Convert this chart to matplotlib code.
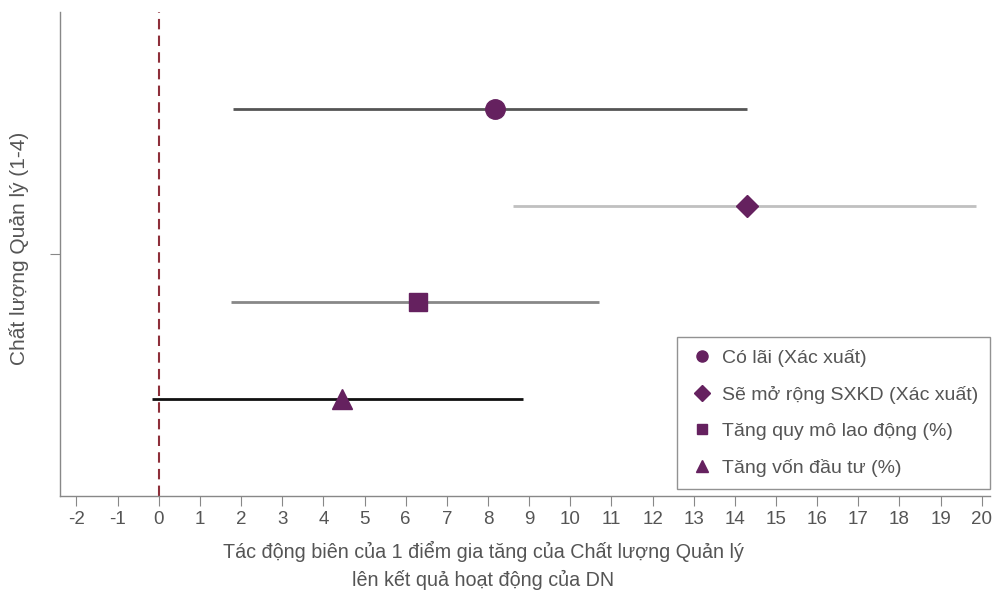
import matplotlib
matplotlib.use("Agg")
import matplotlib.pyplot as plt
from matplotlib.lines import Line2D

plt.rcParams['font.family'] = ['Liberation Sans', 'DejaVu Sans']

labels = ["Có lãi (Xác xuất)", "Sẽ mở rộng SXKD (Xác xuất)",
          "Tăng quy mô lao động (%)", "Tăng vốn đầu tư (%)"]
estimates = [8.17, 14.3, 6.3, 4.45]
ci_low = [1.8, 8.6, 1.75, -0.17]
ci_high = [14.3, 19.85, 10.7, 8.85]
ypos = [4, 3, 2, 1]
markers = ["o", "D", "s", "^"]
msizes = [14, 11, 12.5, 14]
legend_msizes = [8, 8, 7.5, 8.5]
line_colors = ["#555555", "#c0c0c0", "#888888", "#111111"]
xticks = list(range(-2, 21))

purple = "#65215f"
text_color = "#555555"
FS = 13.5
FS_LAB = 14.2

fig = plt.figure(figsize=(9.96, 5.9), dpi=100)
ax = fig.add_axes([60/996, 1-496/590, (990-60)/996, (496-12)/590])

ax.axvline(0, color="#8e2f3a", linestyle=(0, (5, 3)), linewidth=1.5, zorder=1)

handles = []
for lab, est, lo, hi, y, m, ms, lms, lc in zip(labels, estimates, ci_low, ci_high, ypos, markers, msizes, legend_msizes, line_colors):
    ax.plot([lo, hi], [y, y], color=lc, linewidth=2, zorder=2, solid_capstyle='butt')
    ax.plot([est], [y], marker=m, markersize=ms, color=purple, linestyle='none', zorder=3)
    handles.append(Line2D([], [], marker=m, color=purple, linestyle='none', markersize=lms))

ax.set_xlim(-2.4, 20.2)
ax.set_ylim(0, 5)
ax.set_xticks(xticks)
ax.set_xticklabels([str(t) for t in xticks])
ax.set_yticks([2.5])
ax.set_yticklabels([""])

for s in ["top", "right"]:
    ax.spines[s].set_visible(False)
for s in ["left", "bottom"]:
    ax.spines[s].set_color("#888888")
    ax.spines[s].set_linewidth(1)
ax.tick_params(axis='both', colors="#888888", labelcolor=text_color, labelsize=FS, length=7, pad=4)

ax.set_xlabel("Tác động biên của 1 điểm gia tăng của Chất lượng Quản lý\nlên kết quả hoạt động của DN",
              fontsize=FS_LAB, color=text_color, linespacing=1.5)
ax.xaxis.set_label_coords((483-60)/930, -0.093)
ax.xaxis.label.set_va('top')
ax.set_ylabel("Chất lượng Quản lý (1-4)", fontsize=15, color=text_color)
ax.yaxis.set_label_coords(-0.033, 0.512)

leg = ax.legend(handles, labels, loc='lower right', bbox_to_anchor=(1.0, 0.015),
                fontsize=14, frameon=True, fancybox=False, edgecolor="#777777",
                handletextpad=0.4, labelspacing=0.97, borderpad=0.6, handlelength=1.3,
                borderaxespad=0.0, labelcolor=text_color)
leg.get_frame().set_linewidth(1)

fig.savefig("out.png", dpi=100)
